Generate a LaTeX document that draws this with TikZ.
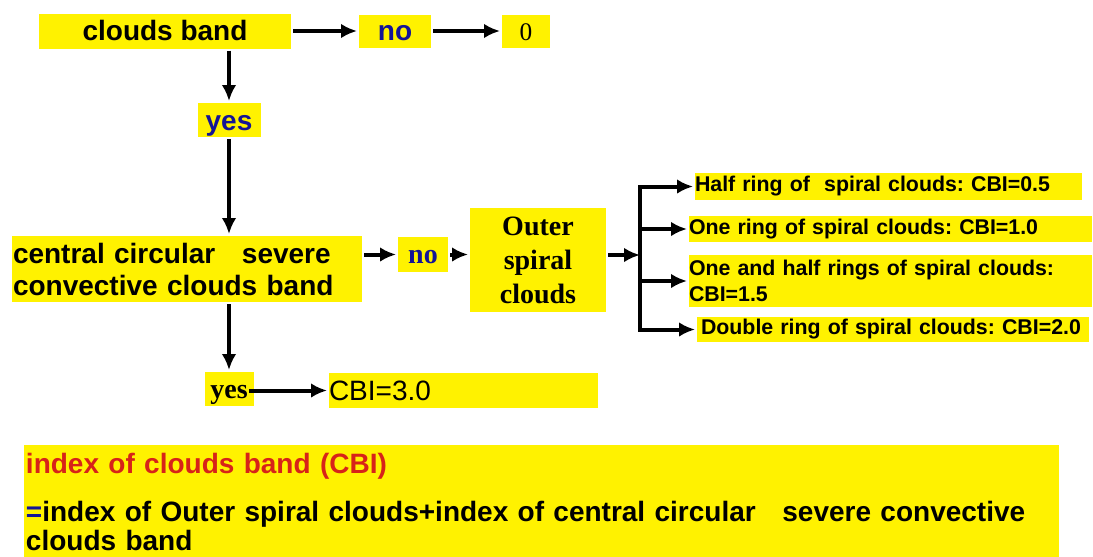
\documentclass[tikz,border=0pt]{standalone}
\usepackage{fontspec}
\setmainfont{Liberation Serif}
\setsansfont{Liberation Sans}
\usetikzlibrary{arrows.meta}
\newlength{\px}
\setlength{\px}{0.75pt}
\definecolor{darkblue}{RGB}{20,20,150}
\definecolor{titlered}{RGB}{215,35,25}

\begin{document}
\frenchspacing
\begin{tikzpicture}[x=0.75pt, y=-0.75pt, >={Latex[length=12pt,width=11pt]}, line width=3pt]
      \tikzset{
  yellow box/.style={
    fill=yellow,
    inner sep=0pt,
    font=\sffamily\bfseries\fontsize{21}{24}\selectfont
  },
  serif box/.style={
    yellow box,
    font=\rmfamily\bfseries\fontsize{21}{25.5}\selectfont
  },
  ring box/.style={
    yellow box,
    anchor=west,
    align=left,
    font=\sffamily\bfseries\fontsize{16}{20}\selectfont
  }
}

\useasboundingbox (0,0) rectangle (1093,557);

\node [yellow box, minimum width=252\px, text height=27\px, text depth=8\px] (band) at (165,31) {clouds band};
\node [yellow box, text=darkblue, minimum width=72\px, text height=26\px, text depth=7\px] (no-1) at (395,31) {no};
\node [yellow box, font=\rmfamily\fontsize{19}{22}\selectfont, minimum width=48\px, text height=26\px, text depth=7\px] (zero) at (526,31) {0};
\node [yellow box, text=darkblue, minimum width=63\px, text height=27\px, text depth=7\px] (yes-1) at (229,120) {yes};

\node [yellow box, align=left, text width=348\px, inner xsep=1\px, minimum height=66\px] (central) at (187,269) {central circular\hspace{20pt}severe\\convective clouds band};
\node [serif box, text=darkblue, minimum width=50\px, text height=26\px, text depth=9\px] (no-2) at (423,254.5) {no};
\node [serif box, align=center, minimum width=136\px, minimum height=104\px] (outer) at (538,260) {Outer\\spiral\\clouds};

\foreach \l/\w/\c/\h/\t [count=\i] in {
    693/387/186.5/27/{Half ring of~ spiral clouds: CBI=0.5},
    687/403/229/26/{One ring of spiral clouds: CBI=1.0},
    687/403/281/52/{One and half rings of spiral clouds:\\CBI=1.5},
    695/392/329.5/25/{\hspace{3pt}Double ring of spiral clouds: CBI=2.0}}
  \node [ring box, text width=\w\px, minimum height=\h\px] (ring-\i) at (\l,\c) {\t};

\node [serif box, minimum width=49\px, text height=26\px, text depth=8\px] (yes-2) at (229,389) {yes};
\node [yellow box, anchor=west, font=\sffamily\fontsize{21}{24}\selectfont, align=left, text width=269\px, text height=27\px, text depth=8\px] (cbi) at (327,390.5) {CBI=3.0};

\node [yellow box, anchor=north west, align=left, text width=1031\px, inner xsep=2\px, inner ysep=6pt] (formula) at (22,443) {\textcolor{titlered}{index of clouds band (CBI)}\\[12pt]\textcolor{darkblue}{=}index of Outer spiral clouds+index of central circular\hspace{20pt}severe convective\\[-2pt]clouds band};

% arrows
\draw [->] (band.east) -- (no-1.west);
\draw [->] (no-1.east) -- (zero.west);
\draw [->] (band.south -| yes-1.north) -- (yes-1.north);
\draw [->] (yes-1.south) -- (yes-1.south |- central.north);
\draw [->] (no-2.west -| central.east) -- (no-2.west);
\draw [->] (no-2.east) -- (no-2.east -| outer.west);

\coordinate (fork) at (640,255);
\draw [->] (outer.east |- fork) -- (fork);
\draw [line cap=rect] (fork |- ring-1.west) -- (fork |- ring-4.west);
\foreach \i in {1,...,4}
  \draw [->] (fork |- ring-\i.west) -- (ring-\i.west);

\draw [->] (central.south -| yes-2.north) -- (yes-2.north);
\draw [->] ([xshift=-5pt]yes-2.east |- cbi.west) -- (cbi.west);
      \end{tikzpicture}
\end{document}
